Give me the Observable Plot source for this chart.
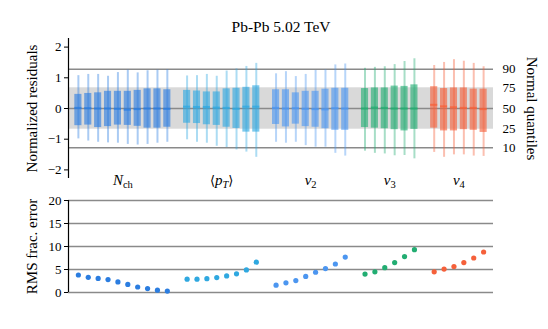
<!DOCTYPE html>
<html><head><meta charset="utf-8">
<script src="https://cdn.jsdelivr.net/npm/d3@7"></script>
<script src="https://cdn.jsdelivr.net/npm/@observablehq/plot@0.6"></script>
<style>
body{margin:0;background:#fff;}
#chart{width:548px;height:329px;overflow:hidden;background:#fff;}
#chart svg{display:block;overflow:visible;}
</style></head><body><div id="chart"></div>
<script>
// ---- data ----
const title = "Pb-Pb 5.02 TeV";
const groups = ["Nch", "pT", "v2", "v3", "v4"];
const labelMain = ["N", "p", "v", "v", "v"];
const labelSub = ["ch", "T", "2", "3", "4"];
const labelSubItalic = [false, true, false, false, false];
const labelBrackets = [false, true, false, false, false];
const groupColors = ["#2b7de0", "#2fa8e0", "#4c96f0", "#22ad72", "#f5603a"];

// box upper quartile (q3) per group
const boxHigh = [
  [0.46, 0.49, 0.51, 0.56, 0.56, 0.56, 0.59, 0.64, 0.64, 0.61],
  [0.59, 0.57, 0.54, 0.54, 0.64, 0.66, 0.69, 0.74],
  [0.61, 0.61, 0.51, 0.56, 0.56, 0.63, 0.66, 0.66],
  [0.65, 0.67, 0.67, 0.73, 0.72, 0.77],
  [0.71, 0.65, 0.67, 0.67, 0.63, 0.63]
];
// box lower quartile (q1)
const boxLow = [
  [-0.56, -0.54, -0.62, -0.59, -0.54, -0.55, -0.58, -0.64, -0.64, -0.61],
  [-0.48, -0.49, -0.53, -0.55, -0.61, -0.65, -0.77, -0.77],
  [-0.52, -0.60, -0.51, -0.59, -0.61, -0.66, -0.71, -0.71],
  [-0.62, -0.64, -0.66, -0.69, -0.73, -0.68],
  [-0.64, -0.73, -0.73, -0.69, -0.71, -0.78]
];
// medians
const medians = [
  [0.02, 0.01, 0.00, 0.00, -0.01, -0.04, -0.02, 0.00, 0.00, -0.01],
  [0.06, 0.05, 0.05, 0.03, 0.02, -0.01, 0.06, 0.06],
  [0.02, 0.00, 0.01, -0.01, -0.02, -0.03, 0.01, 0.00],
  [0.00, 0.03, 0.02, 0.00, 0.00, 0.00],
  [0.12, 0.07, 0.04, 0.02, 0.02, -0.02]
];
// whisker ends
const whiskerHigh = [
  [1.07, 1.11, 1.11, 1.05, 1.17, 1.25, 1.16, 1.23, 1.25, 1.26],
  [1.06, 1.07, 1.11, 1.05, 1.22, 1.29, 1.37, 1.47],
  [1.13, 1.20, 1.04, 1.11, 1.24, 1.26, 1.42, 1.45],
  [1.31, 1.34, 1.36, 1.43, 1.53, 1.62],
  [1.40, 1.50, 1.59, 1.54, 1.47, 1.36]
];
const whiskerLow = [
  [-0.99, -1.06, -1.10, -1.12, -1.13, -1.17, -1.19, -1.17, -1.13, -1.10],
  [-1.02, -1.10, -1.13, -1.23, -1.27, -1.35, -1.42, -1.59],
  [-1.10, -1.13, -1.10, -1.21, -1.26, -1.26, -1.46, -1.55],
  [-1.39, -1.46, -1.48, -1.54, -1.53, -1.64],
  [-1.43, -1.59, -1.51, -1.51, -1.55, -1.56]
];
// RMS fractional error (%)
const rmsError = [
  [3.8, 3.3, 3.05, 2.8, 2.3, 1.75, 1.2, 0.85, 0.5, 0.3],
  [2.9, 2.9, 3.0, 3.25, 3.6, 4.05, 4.9, 6.6],
  [1.6, 2.1, 2.6, 3.5, 4.4, 5.2, 6.2, 7.7],
  [4.0, 4.5, 5.4, 6.5, 7.8, 9.3],
  [4.5, 5.1, 5.65, 6.5, 7.5, 8.8]
];
// normal quantiles (right axis)
const quantileLabels = ["10", "25", "50", "75", "90"];
const quantileZ = [-1.2816, -0.6745, 0, 0.6745, 1.2816];
const residualTicks = [-2, -1, 0, 1, 2];
const rmsTicks = [0, 5, 10, 15, 20];

// ---- build rows ----
const rows = [];
const centers = [];
let pos = 0;
groups.forEach((g, gi) => {
  const n = boxHigh[gi].length;
  centers.push({gi, pos: pos + (n - 1) / 2});
  for (let j = 0; j < n; j++) {
    rows.push({
      gi, pos,
      q3: boxHigh[gi][j], q1: boxLow[gi][j], med: medians[gi][j],
      wHi: whiskerHigh[gi][j], wLo: whiskerLow[gi][j], rms: rmsError[gi][j],
      color: groupColors[gi]
    });
    pos++;
  }
  pos++; // gap
});
const xMin = -1, xMax = pos - 1;
const half = 0.36;
const font = "'Liberation Serif', 'DejaVu Serif', serif";
const bandZ = quantileZ[3], outerZ = quantileZ[4];
const svgStyle = {fontFamily: font, fontSize: "13px", color: "#000", background: "none", overflow: "visible"};

const topPlot = Plot.plot({
  width: 548, height: 195,
  marginLeft: 68, marginRight: 55, marginTop: 38, marginBottom: 17,
  style: svgStyle,
  x: {domain: [xMin, xMax], axis: null},
  y: {domain: [-2.28, 2.28]},
  marks: [
    Plot.rect([0], {x1: xMin, x2: xMax, y1: -bandZ, y2: bandZ, fill: "#d9d9d9"}),
    Plot.ruleY([-outerZ, 0, outerZ], {x1: xMin, x2: xMax, stroke: "#8a8a8a", strokeWidth: 1.5}),
    Plot.ruleX(rows, {x: "pos", y1: "wLo", y2: "wHi", stroke: "color", strokeWidth: 2, strokeOpacity: 0.4}),
    Plot.rect(rows, {x1: d => d.pos - half, x2: d => d.pos + half, y1: "q1", y2: "q3", fill: "color", fillOpacity: 0.62}),
    Plot.ruleY(rows, {y: "med", x1: d => d.pos - half, x2: d => d.pos + half, stroke: "color", strokeWidth: 2, strokeOpacity: 0.75}),
    Plot.ruleX([xMin], {stroke: "#000", strokeWidth: 1.2}),
    Plot.axisY({anchor: "left", ticks: residualTicks, tickSize: 4, tickPadding: 3, label: null,
      tickFormat: d => d < 0 ? "\u2212" + Math.abs(d) : String(d)}),
    Plot.axisY({anchor: "right", ticks: quantileZ, tickSize: 0, tickPadding: 9, label: null,
      tickFormat: d => quantileLabels[quantileZ.indexOf(d)]}),
    Plot.text([title], {frameAnchor: "top", dy: -11, fontSize: 15.5, lineAnchor: "middle"}),
    Plot.text(["Normalized residuals"], {frameAnchor: "left", dx: -36, rotate: -90, fontSize: 15, textAnchor: "middle", lineAnchor: "middle"}),
    Plot.text(["Normal quantiles"], {frameAnchor: "right", dx: 38, rotate: 90, fontSize: 15, textAnchor: "middle", lineAnchor: "middle"}),
    Plot.text(centers, {x: "pos", text: d => groups[d.gi], frameAnchor: "bottom", dy: 2, fontSize: 15, lineAnchor: "middle"})
  ]
});

// rich math labels for the group names
d3.select(topPlot).selectAll("text").nodes()
  .filter(node => groups.includes(node.textContent))
  .forEach(node => {
    const gi = groups.indexOf(node.textContent);
    const t = d3.select(node);
    t.text(null);
    if (labelBrackets[gi]) t.append("tspan").attr("font-family", "'DejaVu Serif'").attr("font-size", "13px").text("\u27E8");
    t.append("tspan").attr("font-style", "italic").text(labelMain[gi]);
    t.append("tspan").attr("font-style", labelSubItalic[gi] ? "italic" : "normal")
      .attr("font-size", "10.5px").attr("dy", "0.3em").text(labelSub[gi]);
    if (labelBrackets[gi]) t.append("tspan").attr("font-family", "'DejaVu Serif'").attr("font-size", "13px").attr("dy", "-0.3em").text("\u27E9");
  });

const bottomPlot = Plot.plot({
  width: 548, height: 134,
  marginLeft: 68, marginRight: 55, marginTop: 5, marginBottom: 37,
  style: svgStyle,
  x: {domain: [xMin, xMax], axis: null},
  y: {domain: [0, 20]},
  marks: [
    Plot.ruleY(rmsTicks, {x1: xMin, x2: xMax, stroke: "#8a8a8a", strokeWidth: 1.5}),
    Plot.dot(rows, {x: "pos", y: "rms", fill: "color", r: 2.6}),
    Plot.ruleX([xMin], {y1: 0, y2: 20, stroke: "#000", strokeWidth: 1.2}),
    Plot.axisY({anchor: "left", ticks: rmsTicks, tickSize: 4, tickPadding: 3, label: null}),
    Plot.text(["RMS frac. error"], {frameAnchor: "left", dx: -36, rotate: -90, fontSize: 15, textAnchor: "middle", lineAnchor: "middle"})
  ]
});

const chart = document.getElementById("chart");
chart.appendChild(topPlot);
chart.appendChild(bottomPlot);
</script></body></html>
